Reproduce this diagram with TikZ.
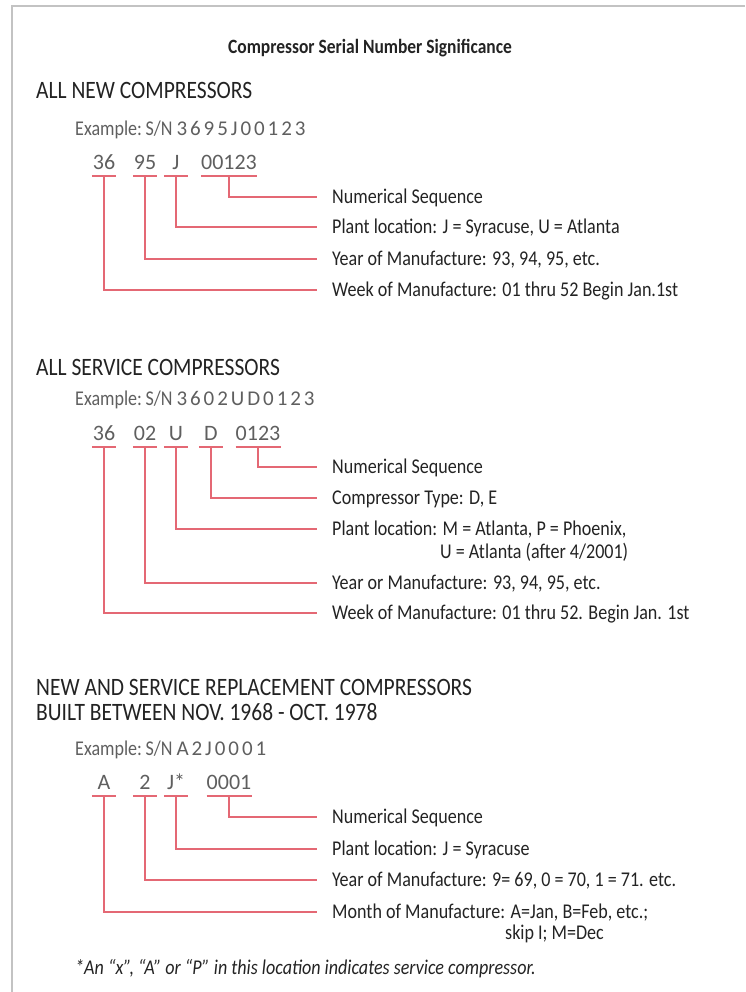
\documentclass[tikz,border=0pt]{standalone}
\usepackage{fontspec}
\setmainfont[FakeStretch=0.86]{Carlito}
\newfontfamily\serialfont[LetterSpace=14]{Carlito}
\newfontfamily\digitfont{Carlito}
\usepackage{xcolor}
\usetikzlibrary{calc}
\definecolor{leadred}{RGB}{228,104,116}
\definecolor{framegray}{RGB}{195,195,195}
\definecolor{inkgray}{RGB}{35,35,35}
\definecolor{examplegray}{RGB}{95,95,95}
\tikzset{
  sheettitle/.style={font=\fontsize{20.3}{22}\selectfont\bfseries, text=inkgray},
  heading/.style={anchor=base west, inner sep=0pt,
                  font=\fontsize{25}{28}\selectfont, text=inkgray},
  example/.style={anchor=base west, inner sep=0pt,
                  font=\fontsize{21}{24}\selectfont, text=examplegray},
  digits/.style={anchor=south, inner xsep=0pt, inner ysep=6pt, minimum width=24pt,
                 text depth=0pt, font=\digitfont\fontsize{22}{24}\selectfont, text=examplegray},
  lbl/.style={anchor=west, inner sep=0pt, text height=13.8pt, text depth=0pt,
              font=\fontsize{21}{24}\selectfont, text=inkgray},
  lead/.style={leadred, line width=1.1pt},
}
\newcommand{\sn}[1]{{\serialfont\fontsize{21}{24}\selectfont #1}}

\begin{document}
\begin{tikzpicture}[x=1pt, y=-1pt]
        \useasboundingbox (0,0) rectangle (745,992);

        % Frame
        \draw[framegray, line width=2pt] (12,992) -- (12,6) -- (745,6);

        % Title
        \node[sheettitle] (title) at (370,48) {Compressor Serial Number Significance};

        % ---- All new compressors
        \node[heading] (h1) at (36,99) {ALL NEW COMPRESSORS};
        \node[example] (ex1) at (75,136) {Example:\,S/N \sn{3695J00123}};

        \node[digits] (g1a) at (104,176) {36};
        \node[digits] (g1b) at (145,176) {95};
        \node[digits] (g1c) at (176,176) {J};
        \node[digits] (g1d) at (229,176) {00123};

        \node[lbl] (l1a) at (332,197) {Numerical Sequence};
        \node[lbl] (l1b) at (332,227) {Plant location: J = Syracuse, U = Atlanta};
        \node[lbl] (l1c) at (332,259) {Year of Manufacture: 93, 94, 95, etc.};
        \node[lbl] (l1d) at (332,290) {Week of Manufacture: 01 thru 52 Begin Jan.1st};

        \foreach \g in {g1a,g1b,g1c,g1d}
          \draw[lead] (\g.south west) -- (\g.south east);
        \draw[lead] (g1d.south) |- ([xshift=-15pt]l1a.west);
        \draw[lead] (g1c.south) |- ([xshift=-15pt]l1b.west);
        \draw[lead] (g1b.south) |- ([xshift=-15pt]l1c.west);
        \draw[lead] (g1a.south) |- ([xshift=-15pt]l1d.west);

        % ---- All service compressors
        \node[heading] (h2) at (36,375) {ALL SERVICE COMPRESSORS};
        \node[example] (ex2) at (75,405) {Example:\,S/N \sn{3602UD0123}};

        \node[digits] (g2a) at (104,447) {36};
        \node[digits] (g2b) at (145,447) {02};
        \node[digits] (g2c) at (176,447) {U};
        \node[digits] (g2d) at (211,447) {D};
        \node[digits] (g2e) at (258,447) {0123};

        \node[lbl] (l2a) at (332,467) {Numerical Sequence};
        \node[lbl] (l2b) at (332,498) {Compressor Type: D, E};
        \node[lbl] (l2c) at (332,529) {Plant location: M = Atlanta, P = Phoenix,};
        \node[lbl] (l2c2) at (440,552) {U = Atlanta (after 4/2001)};
        \node[lbl] (l2d) at (332,583) {Year or Manufacture: 93, 94, 95, etc.};
        \node[lbl] (l2e) at (332,613) {Week of Manufacture: 01 thru 52. Begin Jan. 1st};

        \foreach \g in {g2a,g2b,g2c,g2d,g2e}
          \draw[lead] (\g.south west) -- (\g.south east);
        \draw[lead] (g2e.south) |- ([xshift=-15pt]l2a.west);
        \draw[lead] (g2d.south) |- ([xshift=-15pt]l2b.west);
        \draw[lead] (g2c.south) |- ([xshift=-15pt]l2c.west);
        \draw[lead] (g2b.south) |- ([xshift=-15pt]l2d.west);
        \draw[lead] (g2a.south) |- ([xshift=-15pt]l2e.west);

        % ---- Replacement compressors 1968-1978
        \node[heading] (h3) at (36,695) {NEW AND SERVICE REPLACEMENT COMPRESSORS};
        \node[heading] (h3b) at (36,720) {BUILT BETWEEN NOV. 1968 - OCT. 1978};
        \node[example] (ex3) at (75,755) {Example:\,S/N \sn{A2J0001}};

        \node[digits] (g3a) at (104,796) {A};
        \node[digits] (g3b) at (145,796) {2};
        \node[digits] (g3c) at (176,796) {J*};
        \node[digits] (g3d) at (229,796) {0001};

        \node[lbl] (l3a) at (332,817) {Numerical Sequence};
        \node[lbl] (l3b) at (332,849) {Plant location: J = Syracuse};
        \node[lbl] (l3c) at (332,880) {Year of Manufacture: 9= 69, 0 = 70, 1 = 71. etc.};
        \node[lbl] (l3d) at (332,912) {Month of Manufacture: A=Jan, B=Feb, etc.;};
        \node[lbl] (l3d2) at (505,933) {skip I; M=Dec};

        \foreach \g in {g3a,g3b,g3c,g3d}
          \draw[lead] (\g.south west) -- (\g.south east);
        \draw[lead] (g3d.south) |- ([xshift=-15pt]l3a.west);
        \draw[lead] (g3c.south) |- ([xshift=-15pt]l3b.west);
        \draw[lead] (g3b.south) |- ([xshift=-15pt]l3c.west);
        \draw[lead] (g3a.south) |- ([xshift=-15pt]l3d.west);

        % Footnote
        \node[example, text=inkgray, font=\fontsize{21}{24}\selectfont\itshape] (note) at (75,974)
              {*An “x”, “A” or “P” in this location indicates service compressor.};
      \end{tikzpicture}
\end{document}
